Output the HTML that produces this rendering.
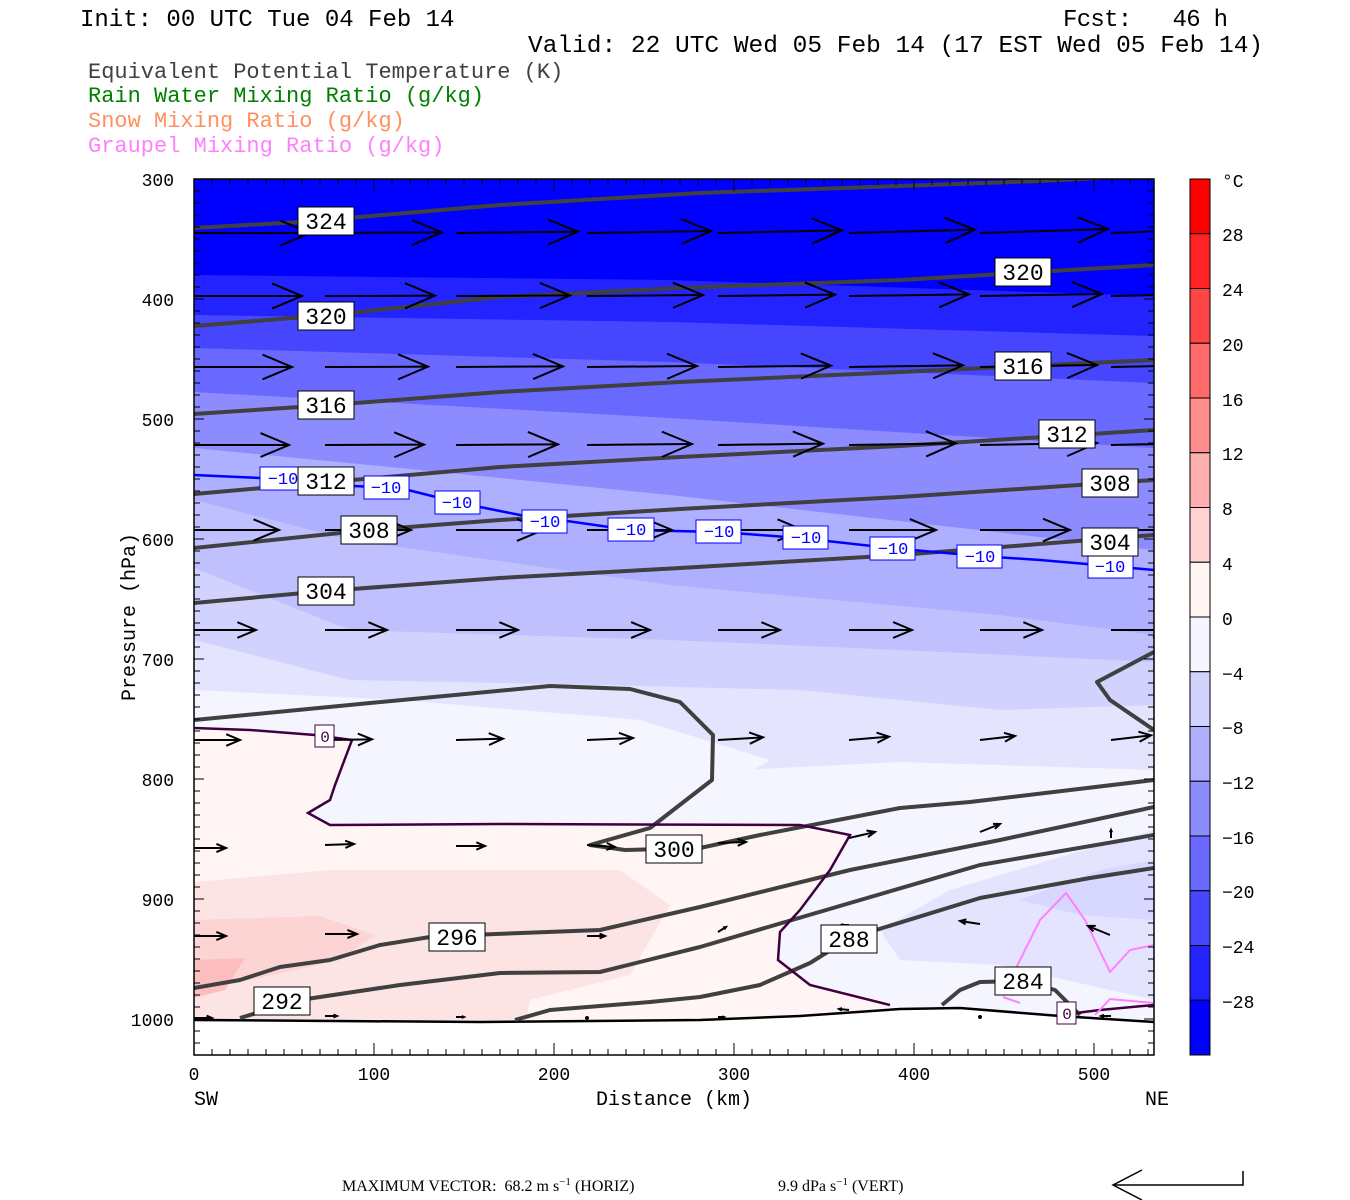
<!DOCTYPE html>
<html><head><meta charset="utf-8">
<style>
html,body{margin:0;padding:0;background:#fff;}
body{width:1350px;height:1200px;overflow:hidden;position:relative;}
svg{position:absolute;left:0;top:0;}
.hd{font-family:"Liberation Mono",monospace;white-space:pre;}
.tk{font-family:"Liberation Mono",monospace;font-size:18px;}
.lb{font-family:"Liberation Mono",monospace;font-size:23px;}
</style></head><body>
<svg id="s" width="1350" height="1200" viewBox="0 0 1350 1200" xmlns="http://www.w3.org/2000/svg">
<text class="hd" x="80" y="26" font-size="24">Init: 00 UTC Tue 04 Feb 14</text>
<text class="hd" x="1063" y="26" font-size="24" textLength="165">Fcst:&#160;&#160;&#160;46 h</text>
<text class="hd" x="528" y="52" font-size="24.5">Valid: 22 UTC Wed 05 Feb 14 (17 EST Wed 05 Feb 14)</text>
<text class="hd" x="88" y="78" font-size="22" fill="#404040">Equivalent Potential Temperature (K)</text>
<text class="hd" x="88" y="102" font-size="22" fill="#008000">Rain Water Mixing Ratio (g/kg)</text>
<text class="hd" x="88" y="127" font-size="22" fill="#ff9060">Snow Mixing Ratio (g/kg)</text>
<text class="hd" x="88" y="152" font-size="22" fill="#ff80ff">Graupel Mixing Ratio (g/kg)</text>

<clipPath id="cp"><rect x="194" y="179" width="960" height="876"/></clipPath>
<g clip-path="url(#cp)">
<rect x="194" y="179" width="960" height="876" fill="rgb(0,0,255)"/>
<polygon fill="rgb(35,35,255)" points="194,275 670,280 1154,296 1154,1055 194,1055"/>
<polygon fill="rgb(70,70,255)" points="194,315 670,322 1154,336 1154,1055 194,1055"/>
<polygon fill="rgb(105,105,255)" points="194,348 670,362 1154,383 1154,1055 194,1055"/>
<polygon fill="rgb(140,140,255)" points="194,392 670,418 1154,448 1154,1055 194,1055"/>
<polygon fill="rgb(175,175,255)" points="194,448 400,468 670,495 1154,550 1154,1055 194,1055"/>
<polygon fill="rgb(192,192,255)" points="194,500 350,540 670,585 1000,615 1154,635 1154,1055 194,1055"/>
<polygon fill="rgb(210,210,255)" points="194,568 350,630 670,640 900,650 1154,662 1154,1055 194,1055"/>
<polygon fill="rgb(228,228,255)" points="194,640 350,680 600,685 800,690 1000,710 1154,705 1154,1055 194,1055"/>
<polygon fill="rgb(245,245,255)" points="194,690 400,700 640,720 770,760 720,790 640,775 900,762 1154,770 1154,1055 194,1055"/>
<polygon fill="rgb(228,228,255)" points="880,930 950,890 1050,860 1154,830 1154,1000 1000,965 900,960"/>
<polygon fill="rgb(215,215,255)" points="1020,900 1100,870 1154,860 1154,920 1080,915"/>
<polygon fill="rgb(255,245,245)" points="194,728 250,730 315,735 352,740 335,785 330,800 308,813 330,825 500,824 800,825 850,835 830,870 800,910 780,932 778,960 810,985 890,1005 890,1055 194,1055"/>
<polygon fill="rgb(253,228,228)" points="194,882 330,870 620,870 670,905 630,975 530,1000 520,1055 194,1055"/>
<polygon fill="rgb(252,212,212)" points="194,920 320,916 375,935 340,960 250,980 194,990"/>
<polygon fill="rgb(252,190,190)" points="194,960 245,958 225,990 194,998"/>
<polygon fill="#fff" points="194,1020 480,1022 700,1020 800,1016 900,1009 960,1008 1060,1016 1154,1022 1154,1055 194,1055"/>
<polyline fill="none" stroke="#000" stroke-width="2.5" points="194,1020 480,1022 700,1020 800,1016 900,1009 960,1008 1060,1016 1154,1022"/>

<g fill="none" stroke="#404040" stroke-width="4" stroke-linejoin="round">
<polyline points="194,228 300,222 500,205 700,193 900,186 1040,181 1100,178"/>
<polyline points="194,326 330,315 500,297 680,288 900,280 1154,265"/>
<polyline points="194,414 330,405 500,392 680,382 900,372 1154,360"/>
<polyline points="194,494 330,482 500,467 680,457 900,446 1154,430"/>
<polyline points="194,548 369,530 500,520 680,509 900,497 1154,480"/>
<polyline points="194,603 326,591 500,578 680,568 900,555 1154,535"/>
<polyline points="194,720 370,703 550,686 630,689 680,702 713,735 712,780 650,828 590,845 625,850 700,848 760,835 900,808 970,802 1154,780"/>
<polyline points="1154,652 1097,682 1110,700 1154,730"/>
<polyline points="194,988 240,980 280,967 330,960 380,945 430,937 470,935 600,930 700,907 850,870 1000,840 1154,807"/>
<polyline points="240,1018 300,1000 400,985 500,973 600,972 700,947 850,903 980,865 1154,835"/>
<polyline points="515,1020 550,1010 650,1002 700,997 760,985 810,963 850,938 980,898 1090,878 1154,868"/>
<polyline points="942,1005 960,990 980,982 1022,981 1055,990 1080,1015"/>
</g>
<polyline fill="none" stroke="#400040" stroke-width="2.5" points="194,728 250,730 315,735 352,740 335,785 330,800 308,813 330,825 500,824 800,825 850,835 830,870 800,910 780,932 778,960 810,985 890,1005"/>
<polyline fill="none" stroke="#400040" stroke-width="2.5" points="1060,1015 1100,1010 1154,1005"/>
<polyline fill="none" stroke="#ff80ff" stroke-width="2" points="1005,990 1040,920 1066,893 1085,920 1110,972 1130,950 1154,945"/>
<polyline fill="none" stroke="#ff80ff" stroke-width="2" points="1003,997 1020,1003"/>
<polyline fill="none" stroke="#ff80ff" stroke-width="2" points="1095,1015 1110,999 1154,1003"/>
<polyline fill="none" stroke="#0000ff" stroke-width="2.5" points="194,475 260,478 330,485 400,488 460,503 520,515 560,520 630,530 720,532 800,538 890,548 980,556 1040,560 1110,566 1154,570"/>
<g id="arr" fill="none" stroke="#000" stroke-width="2"></g>
</g>

<g font-family="Liberation Mono,monospace" font-size="17" fill="#0000ff" text-anchor="middle">
<g fill="#fff" stroke="#0000ff" stroke-width="1">
<rect x="260" y="467" width="46" height="23"/><rect x="364" y="476" width="45" height="23"/>
<rect x="435" y="491" width="45" height="23"/><rect x="522" y="510" width="45" height="23"/>
<rect x="608" y="518" width="46" height="23"/><rect x="696" y="520" width="45" height="23"/>
<rect x="783" y="526" width="45" height="23"/><rect x="870" y="537" width="45" height="23"/>
<rect x="957" y="545" width="45" height="23"/><rect x="1088" y="555" width="45" height="23"/>
</g>
<text x="283" y="484">−10</text><text x="386" y="493">−10</text><text x="457" y="508">−10</text>
<text x="545" y="527">−10</text><text x="631" y="535">−10</text><text x="719" y="537">−10</text>
<text x="806" y="543">−10</text><text x="893" y="554">−10</text><text x="980" y="562">−10</text>
<text x="1110" y="572">−10</text>
</g>
<g class="lb" text-anchor="middle">
<g fill="#fff" stroke="#000" stroke-width="1">
<rect x="298" y="207" width="56" height="28"/>
<rect x="298" y="302" width="56" height="28"/><rect x="995" y="258" width="56" height="28"/>
<rect x="298" y="391" width="56" height="28"/><rect x="995" y="352" width="56" height="28"/>
<rect x="298" y="467" width="56" height="28"/><rect x="1039" y="420" width="56" height="28"/>
<rect x="341" y="516" width="56" height="28"/><rect x="1082" y="469" width="56" height="28"/>
<rect x="298" y="577" width="56" height="28"/><rect x="1082" y="528" width="56" height="28"/>
<rect x="646" y="835" width="56" height="28"/><rect x="429" y="923" width="56" height="28"/>
<rect x="254" y="987" width="56" height="28"/><rect x="821" y="925" width="56" height="28"/>
<rect x="995" y="967" width="56" height="28"/>
</g>
<text x="326" y="229">324</text><text x="326" y="324">320</text><text x="1023" y="280">320</text>
<text x="326" y="413">316</text><text x="1023" y="374">316</text><text x="326" y="489">312</text>
<text x="1067" y="442">312</text><text x="369" y="538">308</text><text x="1110" y="491">308</text>
<text x="326" y="599">304</text><text x="1110" y="550">304</text><text x="674" y="857">300</text>
<text x="457" y="945">296</text><text x="282" y="1009">292</text><text x="849" y="947">288</text>
<text x="1023" y="989">284</text>
</g>
<g font-family="Liberation Mono,monospace" font-size="16" fill="#400040" text-anchor="middle">
<rect x="315" y="725" width="19" height="22" fill="#fff" stroke="#400040"/>
<text x="325" y="742">0</text>
<rect x="1057" y="1002" width="19" height="22" fill="#fff" stroke="#400040"/>
<text x="1067" y="1019">0</text>
</g>

<rect x="194" y="179" width="960" height="876" fill="none" stroke="#000" stroke-width="1.5"/>
<g id="ticks" stroke="#000" stroke-width="1"></g>

<g class="tk" text-anchor="end">
<text x="174" y="186">300</text><text x="174" y="306">400</text><text x="174" y="426">500</text>
<text x="174" y="546">600</text><text x="174" y="666">700</text><text x="174" y="786">800</text>
<text x="174" y="906">900</text><text x="174" y="1026">1000</text>
</g>
<g class="tk" text-anchor="middle">
<text x="194" y="1080">0</text><text x="374" y="1080">100</text><text x="554" y="1080">200</text>
<text x="734" y="1080">300</text><text x="914" y="1080">400</text><text x="1094" y="1080">500</text>
</g>
<text class="hd" font-size="20" x="674" y="1105" text-anchor="middle">Distance (km)</text>
<text class="hd" font-size="20" x="194" y="1105">SW</text>
<text class="hd" font-size="20" x="1169" y="1105" text-anchor="end">NE</text>
<text class="hd" font-size="20" transform="translate(135,617) rotate(-90)" text-anchor="middle">Pressure (hPa)</text>

<g id="cb" stroke="#000" stroke-width="1"></g>
<g class="tk" font-size="19" text-anchor="start">
<text x="1222" y="187">°C</text>
<text x="1222" y="241">28</text><text x="1222" y="296">24</text><text x="1222" y="351">20</text>
<text x="1222" y="406">16</text><text x="1222" y="460">12</text><text x="1222" y="515">8</text>
<text x="1222" y="570">4</text><text x="1222" y="625">0</text>
<text x="1222" y="680">−4</text><text x="1222" y="734">−8</text><text x="1222" y="789">−12</text>
<text x="1222" y="844">−16</text><text x="1222" y="898">−20</text><text x="1222" y="953">−24</text>
<text x="1222" y="1008">−28</text>
</g>

<text font-family="Liberation Serif,serif" font-size="16" x="342" y="1191">MAXIMUM VECTOR:&#160;&#160;68.2 m s<tspan dy="-6" font-size="11">−1</tspan><tspan dy="6"> (HORIZ)</tspan></text>
<text font-family="Liberation Serif,serif" font-size="16" x="778" y="1191">9.9 dPa s<tspan dy="-6" font-size="11">−1</tspan><tspan dy="6"> (VERT)</tspan></text>
<polyline fill="none" stroke="#000" stroke-width="1.5" points="1142,1170 1113,1185 1142,1200"/>
<polyline fill="none" stroke="#000" stroke-width="1.5" points="1113,1185 1243,1185 1243,1171"/>
</svg>
<script>
(function(){
var NS="http://www.w3.org/2000/svg";
function el(p,n,a){var e=document.createElementNS(NS,n);for(var k in a)e.setAttribute(k,a[k]);p.appendChild(e);return e;}
var t=document.getElementById("ticks");
for(var p=300;p<=1030;p+=10){var y=179+(p-300)*1.2;var L=(p%100==0)?10:6;
 el(t,"line",{x1:194,y1:y,x2:194+L,y2:y});el(t,"line",{x1:1154,y1:y,x2:1154-L,y2:y});}
for(var d=0;d<=535;d+=10){var x=194+d*1.8;var L=(d%100==0)?12:6;
 el(t,"line",{x1:x,y1:1055,x2:x,y2:1055-L});el(t,"line",{x1:x,y1:179,x2:x,y2:179+L});}
var cb=document.getElementById("cb");
for(var i=0;i<16;i++){var y=179+i*54.75;var c;
 if(i<8){var k=7-i;var v=Math.round(245*(1-k/7));c="rgb(255,"+v+","+v+")";}
 else{var k=i-8;var v=Math.round(245*(1-k/7));c="rgb("+v+","+v+",255)";}
 el(cb,"rect",{x:1190,y:y,width:20,height:54.75,fill:c});}
var a=document.getElementById("arr");
function arrow(x,y,dx,dy){var len=Math.sqrt(dx*dx+dy*dy);if(len<2){el(a,"circle",{cx:x,cy:y,r:1,fill:"#000"});return;}
 var ux=dx/len,uy=dy/len,x2=x+dx,y2=y+dy,h=Math.min(30,len*0.3),w=h*0.42;
 el(a,"line",{x1:x,y1:y,x2:x2,y2:y2});
 el(a,"polyline",{points:(x2-ux*h-uy*w)+","+(y2-uy*h+ux*w)+" "+x2+","+y2+" "+(x2-ux*h+uy*w)+","+(y2-uy*h-ux*w)});}
var xs=[194,325,456,587,718,849,980,1111];
var rows=[[233,[116,117,122,124,124,126,128,125],-2],[296,[108,110,114,116,117,120,122,118],-1],
 [367,[98,103,107,110,113,114,117,113],-1],[445,[95,99,102,105,105,107,117,110],-1],
 [530,[85,86,87,85,85,87,90,88],0],[630,[62,62,62,63,62,63,62,60],0],
 [740,[46,47,47,46,45,40,35,40],-2]];
rows.forEach(function(r){xs.forEach(function(x,i){arrow(x,r[0],r[1][i],r[2]*(i/3));});});
var low=[[194,848,32,0],[325,845,29,-1],[456,846,29,0],[587,845,28,2],[718,843,28,-1],[849,838,26,-6],[980,832,20,-8],[1111,838,0,-8],
 [194,936,32,0],[325,934,32,0],[456,934,0,0],[587,936,18,0],[718,932,8,-5],[849,925,-8,0],[980,924,-20,-3],[1110,935,-22,-9],
 [194,1018,18,0],[325,1016,12,0],[456,1017,8,0],[587,1018,0,0],[718,1017,6,0],[849,1010,-10,-1],[980,1017,0,0],[1111,1016,-10,0]];
low.forEach(function(v){arrow(v[0],v[1],v[2],v[3]);});
})();
</script>
</body></html>
